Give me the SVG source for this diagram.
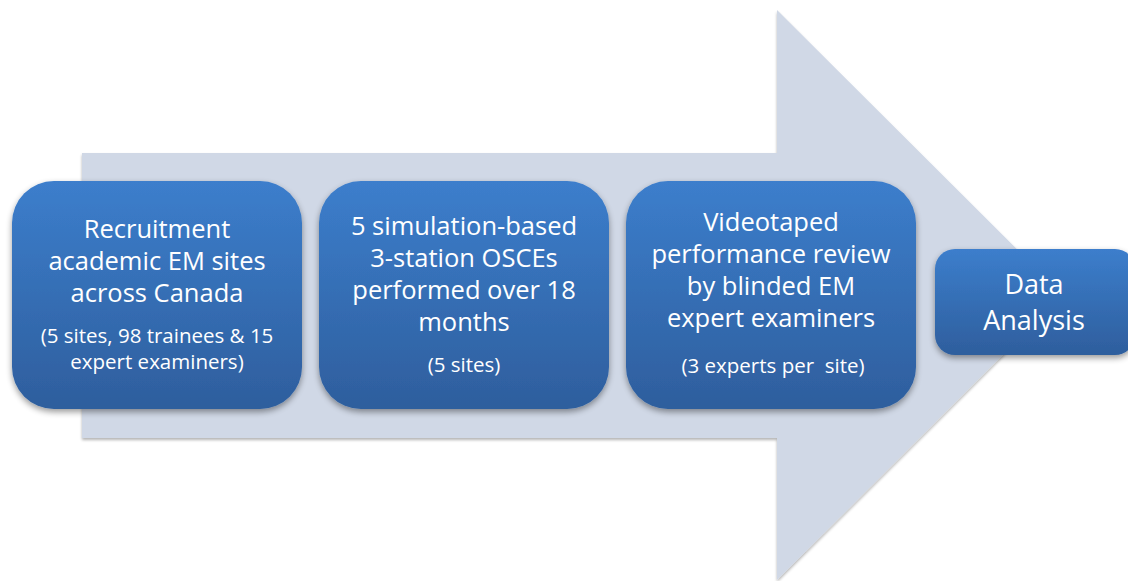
<svg xmlns="http://www.w3.org/2000/svg" width="1128" height="581" viewBox="0 0 1128 581">
<style>
.t{font-family:"Open Sans","Liberation Sans",sans-serif;fill:#ffffff;text-anchor:middle;font-size:25.5px}
.s{font-size:20.5px}
.box{fill:url(#g);filter:url(#sh)}
</style>
<defs>
<linearGradient id="g" x1="0" y1="0" x2="0" y2="1">
<stop offset="0" stop-color="#3C7ECC"/>
<stop offset="1" stop-color="#2E5E9D"/>
</linearGradient>
<filter id="sh" x="-10%" y="-10%" width="120%" height="130%">
<feGaussianBlur in="SourceAlpha" stdDeviation="3"/>
<feOffset dx="0" dy="3" result="b"/>
<feComponentTransfer><feFuncA type="linear" slope="0.4"/></feComponentTransfer>
<feMerge><feMergeNode/><feMergeNode in="SourceGraphic"/></feMerge>
</filter>
<filter id="ash" x="-5%" y="-5%" width="110%" height="110%">
<feGaussianBlur in="SourceAlpha" stdDeviation="1.5"/>
<feOffset dx="0" dy="2"/>
<feComponentTransfer><feFuncA type="linear" slope="0.3"/></feComponentTransfer>
<feMerge><feMergeNode/><feMergeNode in="SourceGraphic"/></feMerge>
</filter>
</defs>
<g id="arrow">
<path d="M82,153 H777 V10 L1063,295 L777,580 V438 H82 Z" fill="#D0D8E6" filter="url(#ash)"/>
</g>
<g id="connectors"></g>
<g id="n1">
<rect class="box" x="12" y="181" width="290" height="228" rx="42"/>
<text class="t" x="157" y="238">Recruitment</text>
<text class="t" x="157" y="270">academic EM sites</text>
<text class="t" x="157" y="302">across Canada</text>
<text class="t s" x="157" y="343">(5 sites, 98 trainees &amp; 15</text>
<text class="t s" x="157" y="369">expert examiners)</text>
</g>
<g id="n2">
<rect class="box" x="319" y="181" width="290" height="228" rx="42"/>
<text class="t" x="464" y="235">5 simulation-based</text>
<text class="t" x="464" y="267">3-station OSCEs</text>
<text class="t" x="464" y="299">performed over 18</text>
<text class="t" x="464" y="331">months</text>
<text class="t s" x="464" y="372">(5 sites)</text>
</g>
<g id="n3">
<rect class="box" x="626" y="181" width="290" height="228" rx="42"/>
<text class="t" x="771" y="231">Videotaped</text>
<text class="t" x="771" y="263">performance review</text>
<text class="t" x="771" y="295">by blinded EM</text>
<text class="t" x="771" y="327">expert examiners</text>
<text class="t s" x="773" y="373" xml:space="preserve">(3 experts per  site)</text>
</g>
<g id="n4">
<rect class="box" x="935" y="249" width="200" height="106" rx="20"/>
<text class="t" x="1034" y="294" style="font-size:27px">Data</text>
<text class="t" x="1034" y="330" style="font-size:27px">Analysis</text>
</g>
</svg>
